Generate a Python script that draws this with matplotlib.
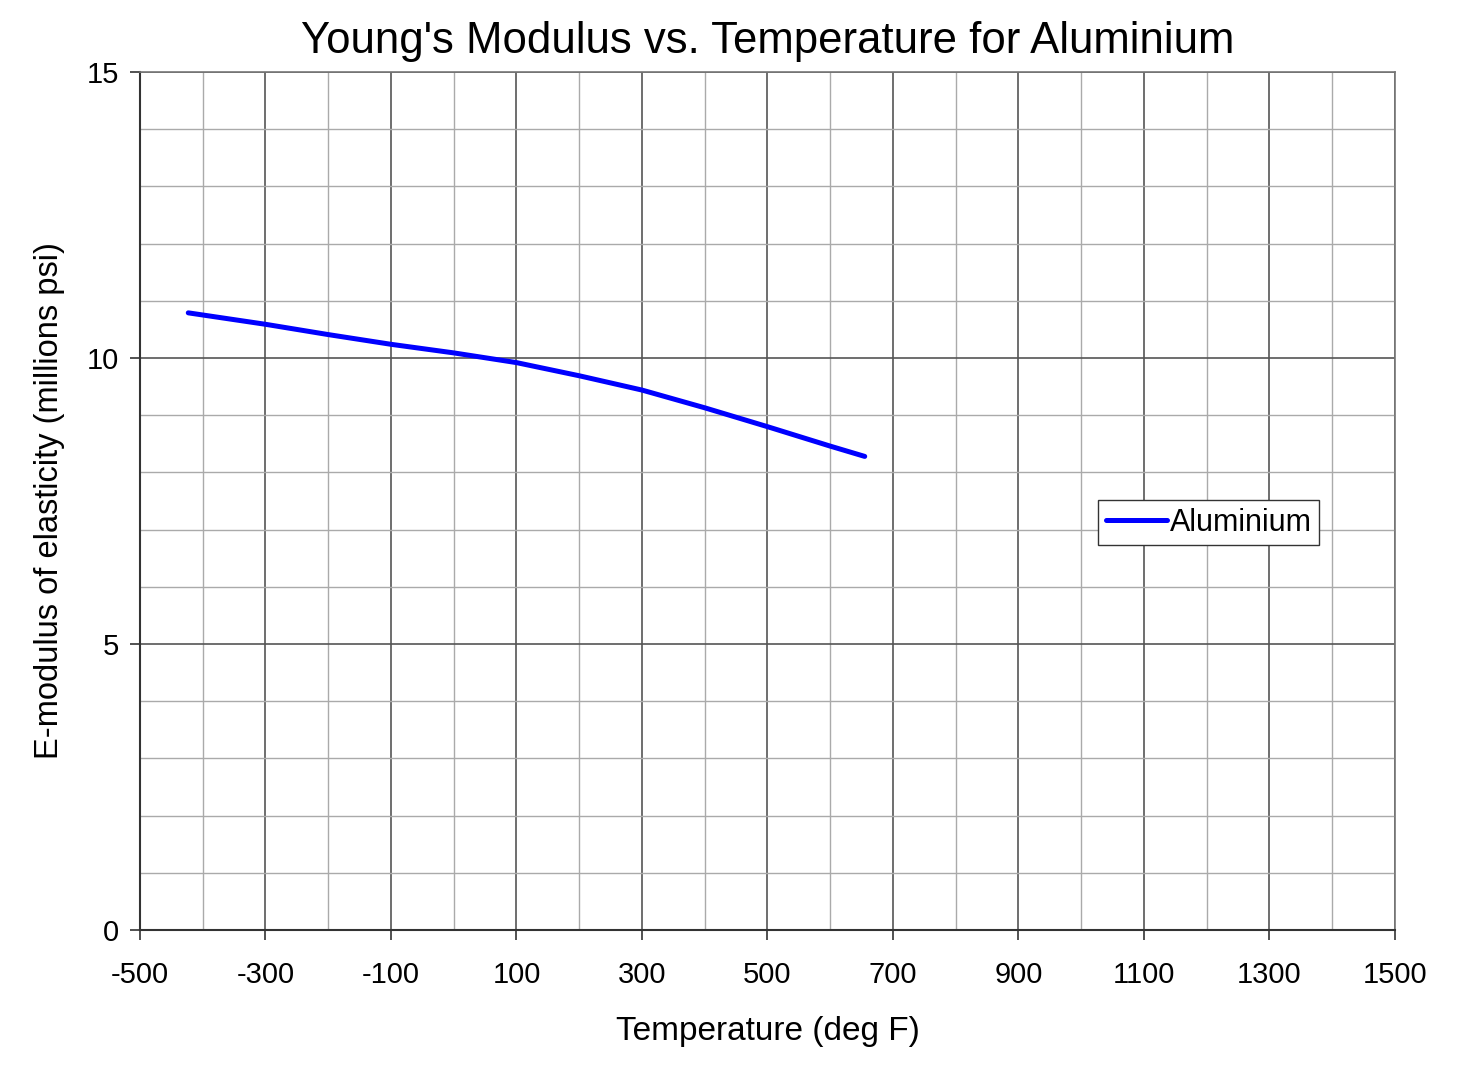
import numpy as np
import matplotlib.pyplot as plt
from matplotlib.ticker import MultipleLocator

plt.rcParams['font.family'] = ['Liberation Sans', 'DejaVu Sans']
plt.rcParams['axes.unicode_minus'] = False

# Temperature (deg F) and E-modulus (millions psi)
temp_f = [-423, -300, -200, -100, 0, 100, 200, 300, 400, 500, 600, 655]
e_mod = [10.79, 10.59, 10.41, 10.24, 10.09, 9.92, 9.69, 9.44, 9.13, 8.80, 8.46, 8.28]

fig = plt.figure(figsize=(14.61, 10.77), dpi=100)
ax = fig.add_axes([0.0958, 0.1365, 0.8590, 0.7966])

ax.plot(temp_f, e_mod, color='#0000ff', lw=3.6, label='Aluminium',
        solid_joinstyle='round', solid_capstyle='round')

ax.set_xlim(-500, 1500)
ax.set_ylim(0, 15)
ax.set_xticks(np.arange(-500, 1501, 200))
ax.xaxis.set_minor_locator(MultipleLocator(100))
ax.set_yticks([0, 5, 10, 15])
ax.yaxis.set_minor_locator(MultipleLocator(1))

ax.grid(which='major', color='#555555', lw=1.2)
ax.grid(which='minor', color='#aaaaaa', lw=1.0)
ax.set_axisbelow(True)

ax.tick_params(which='major', labelsize=21, length=7, width=1.2, color='#333333')
ax.tick_params(axis='x', which='major', pad=15)
ax.tick_params(axis='y', which='major', pad=8)
ax.tick_params(which='minor', length=0)
for s in ['top', 'right']:
    ax.spines[s].set_color('#777777')
    ax.spines[s].set_linewidth(1.2)
for s in ['left', 'bottom']:
    ax.spines[s].set_color('#333333')
    ax.spines[s].set_linewidth(1.5)

ax.set_xlabel('Temperature (deg F)', fontsize=24, labelpad=20)
ax.set_ylabel('E-modulus of elasticity (millions psi)', fontsize=23.5, labelpad=16)
ax.set_title("Young's Modulus vs. Temperature for Aluminium", fontsize=31.5, pad=14)

leg = ax.legend(loc='upper left', bbox_to_anchor=(0.7633, 0.5012), fontsize=22,
                fancybox=False, framealpha=1, edgecolor='#333333',
                handlelength=2.0, handletextpad=0.1, borderpad=0.25,
                borderaxespad=0)
leg.get_frame().set_linewidth(1.0)

fig.savefig('out.png', dpi=100)
